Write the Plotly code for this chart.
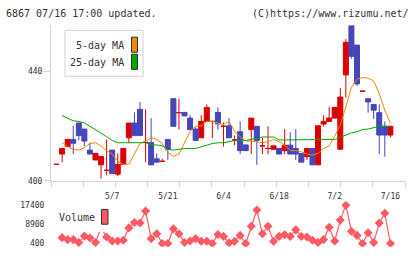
import plotly.graph_objects as go
import numpy as np

# ---------------- data ----------------
date_labels = ['5/7', '5/21', '6/4', '6/18', '7/2', '7/16']
date_label_idx = [10, 20, 30, 40, 50, 60]

opens = [406, 409.75, 412.5, 415.1, 421.1, 418.9, 411.2, 407.6, 405.8, 403.8,
         411.2, 402.4, 406, 415.7, 421.1, 426.1, 414, 413.9, 408, 407.1,
         415.1, 430, 424.9, 425, 422.9, 418.9, 415.7, 421.7, 421.7, 425,
         419.9, 420.1, 414.9, 417.9, 413.1, 418.7, 419.9, 412.75, 411.8, 411.5,
         411.8, 411, 413, 411.8, 410, 408.8, 411.8, 405.8, 420.7, 421.7,
         422.9, 411.5, 438.7, 456.8, 449.6, 432.75, 430, 427.9, 424.9, 419.9,
         416.7]
highs = [406, 411.8, 415.1, 420.1, 421.1, 418.9, 413.9, 410, 408.9, 415.1,
         411.2, 410, 411.8, 421.1, 425, 428.8, 426.1, 422.9, 410, 408,
         415.1, 430, 430, 425, 424, 419.5, 424, 427.9, 421.7, 426.8,
         421.3, 422.9, 416.5, 421.7, 413.1, 422.9, 419.9, 415.7, 419.9, 412.75,
         411.8, 418.9, 417.75, 418.9, 410, 411.8, 411.8, 420.1, 424, 427,
         426.8, 433.9, 451.8, 456.8, 449.6, 432.75, 430, 427.9, 427.9, 421.7,
         419.9]
lows = [406, 406.8, 412.5, 409.75, 414.75, 412.7, 409.75, 407.6, 400.8, 402,
        402.6, 401.7, 406, 413.9, 416.5, 416.5, 406.8, 405.8, 406.8, 407.1,
        407.6, 419.9, 418.7, 423.7, 418.7, 414.75, 415.7, 421.7, 415.7, 418.7,
        412.5, 415.7, 413, 409.75, 411, 409.75, 405.8, 409.75, 409.75, 411.5,
        409.75, 409.75, 409.75, 407.6, 406.8, 407.6, 405.8, 405.8, 419.75, 421.7,
        422.9, 411.5, 430.4, 444.6, 434.75, 432.75, 424.9, 422.6, 409.75, 408.8,
        415.9]
closes = [406, 411.8, 415.1, 413.7, 416.5, 414.5, 409.75, 410, 408.9, 403.8,
          402.6, 406, 411.8, 421.1, 416.5, 416.5, 414, 405.8, 406.8, 407.1,
          411.5, 419.9, 424.9, 423.7, 418.7, 414.75, 421.7, 426.8, 421.7, 420.8,
          419.9, 415.7, 414.9, 411, 411, 422.9, 414.75, 412.75, 411.8, 412.75,
          409.75, 413, 409.75, 409.75, 406.8, 411.8, 405.8, 420.1, 421.7, 422.9,
          426.8, 430.6, 450.6, 445.5, 435.4, 432.75, 428.8, 425.8, 416.7, 416.7,
          419.9]

ma5 = [None, 413.9, 412.4, 411.5, 411.2, 412.1, 413.6, 413.9, 412.75, 411,
       409.75, 407.1, 406, 406, 409.75, 413.6, 414.5, 415.7, 415.1, 413.6,
       410.4, 408.9, 409.75, 413.9, 418.1, 419.9, 420.1, 421.7, 421.7, 421.1,
       420.5, 421.7, 418.1, 416, 414.5, 414.5, 414.3, 413.9, 414.3, 415.1,
       414.3, 413.1, 411, 411, 410.6, 409.75, 409.4, 410, 411.8, 412.75,
       416.3, 420.5, 427, 434.2, 437.1, 437.75, 437.5, 436.5, 431.8, 425.8,
       421.1]
ma25 = [None, 423.8, 422.9, 421.9, 421.7, 421.1, 419.9, 418.7, 417.5, 416.1,
        414.75, 413.9, 413.9, 413.9, 413.9, 413.9, 413.9, 413.1, 413.1, 412.75,
        411.5, 411.2, 411.5, 411.8, 411.8, 411.8, 412.4, 413.1, 413.6, 413.9,
        413.9, 414.3, 414.75, 414.75, 414.75, 415.1, 415.5, 416, 416, 416,
        414.9, 414.9, 414.9, 414.9, 414.9, 414.9, 414.9, 414.9, 414.9, 414.9,
        415.1, 415.9, 416.7, 417.5, 417.9, 418.7, 418.9, 419.5, 419.9, 419.9,
        419.9]
volume = [None, 3000, 2130, 2130, 830, 3690, 2820, 830, 7460, 3260,
          1530, 1530, 1830, 7320, 9740, 9480, 14800, 2560, 4730, 400,
          400, 6890, 4730, 830, 1530, 2560, 1400, 1400, 400, 4420,
          3560, 660, 1400, 3990, 400, 8010, 15240, 4730, 8010, 1400,
          3560, 4290, 3560, 6460, 3560, 3260, 1830, 830, 2130, 7580,
          1530, 10780, 17400, 5850, 3990, 400, 5160, 830, 9480, 13810,
          400]

price_ticks = [400, 440]
volume_ticks = [400, 8900, 17400]

# ---------------- layout helpers ----------------
W, H = 420, 259
def px_x(p):
    return p / W
def px_y(p):
    return (H - p) / H

RED = '#dd0000'
BLUE = '#4646bb'
ORANGE = '#f08800'
GREEN = '#00a800'
VOLC = '#ff5a64'
AXC = '#d4d4d4'
TXT = '#333333'
MONO = 'DejaVu Sans Mono'

idx = np.arange(len(opens))
up = [c >= o for o, c in zip(opens, closes)]

def subset(flag):
    sel = [i for i in idx if up[i] == flag]
    return dict(x=[int(i) for i in sel],
                open=[opens[i] for i in sel], high=[highs[i] for i in sel],
                low=[lows[i] for i in sel], close=[closes[i] for i in sel])

fig = go.Figure()
for flag, col in [(True, RED), (False, BLUE)]:
    d = subset(flag)
    fig.add_trace(go.Candlestick(
        **d, xaxis='x', yaxis='y', whiskerwidth=0,
        increasing=dict(line=dict(color=col, width=1), fillcolor=col),
        decreasing=dict(line=dict(color=col, width=1), fillcolor=col),
        showlegend=False, hoverinfo='skip'))

fig.add_trace(go.Scatter(x=idx, y=ma5, mode='lines', line=dict(color=ORANGE, width=1),
                         xaxis='x', yaxis='y', showlegend=False, hoverinfo='skip'))
fig.add_trace(go.Scatter(x=idx, y=ma25, mode='lines', line=dict(color=GREEN, width=1),
                         xaxis='x', yaxis='y', showlegend=False, hoverinfo='skip'))

fig.add_trace(go.Scatter(x=idx, y=volume, mode='lines+markers',
                         line=dict(color=VOLC, width=1.2),
                         marker=dict(symbol='diamond', size=7, color=VOLC),
                         xaxis='x2', yaxis='y2', showlegend=False, hoverinfo='skip'))

xr = [-1, 62.63]
xdom = [px_x(51), px_x(405)]

shapes = [
    # main legend box
    dict(type='rect', xref='paper', yref='paper', x0=px_x(65), x1=px_x(143),
         y0=px_y(77), y1=px_y(30), line=dict(color='#d0d0d0', width=1),
         fillcolor='white', layer='above'),
    dict(type='rect', xref='paper', yref='paper', x0=px_x(131.5), x1=px_x(137.5),
         y0=px_y(52.5), y1=px_y(37), line=dict(color='#333333', width=1),
         fillcolor=ORANGE, layer='above'),
    dict(type='rect', xref='paper', yref='paper', x0=px_x(131.5), x1=px_x(137.5),
         y0=px_y(70), y1=px_y(54.5), line=dict(color='#333333', width=1),
         fillcolor=GREEN, layer='above'),
    # volume legend background + swatch
    dict(type='rect', xref='paper', yref='paper', x0=px_x(55), x1=px_x(110),
         y0=px_y(236.5), y1=px_y(208), line=dict(width=0),
         fillcolor='white', layer='above'),
    dict(type='rect', xref='paper', yref='paper', x0=px_x(101.5), x1=px_x(108),
         y0=px_y(228.5), y1=px_y(213.5), line=dict(color='#333333', width=1),
         fillcolor=VOLC, layer='above'),
]

annotations = [
    dict(text='6867 07/16 17:00 updated.', xref='paper', yref='paper',
         x=px_x(4), y=px_y(13), xanchor='left', yanchor='middle', showarrow=False,
         font=dict(family=MONO, size=10, color=TXT)),
    dict(text='(C)https://www.rizumu.net/', xref='paper', yref='paper',
         x=px_x(411), y=px_y(13), xanchor='right', yanchor='middle', showarrow=False,
         font=dict(family=MONO, size=10, color=TXT)),
    dict(text='5-day MA', xref='paper', yref='paper',
         x=px_x(126), y=px_y(45.5), xanchor='right', yanchor='middle', showarrow=False,
         font=dict(family=MONO, size=10, color=TXT)),
    dict(text='25-day MA', xref='paper', yref='paper',
         x=px_x(126), y=px_y(62.5), xanchor='right', yanchor='middle', showarrow=False,
         font=dict(family=MONO, size=10, color=TXT)),
    dict(text='Volume', xref='paper', yref='paper',
         x=px_x(57), y=px_y(221.5), xanchor='left', yanchor='middle', showarrow=False,
         font=dict(family=MONO, size=10, color=TXT)),
]

fig.update_layout(
    width=W, height=H, autosize=False,
    margin=dict(l=0, r=0, t=0, b=0),
    paper_bgcolor='white', plot_bgcolor='white',
    showlegend=False, boxgap=0.1, boxgroupgap=0,
    shapes=shapes, annotations=annotations,
    xaxis=dict(domain=xdom, range=xr, anchor='y', showgrid=False, zeroline=False,
               showline=True, linecolor=AXC, linewidth=1,
               ticks='outside', ticklen=5, tickcolor=AXC, tickwidth=1,
               tickvals=list(np.linspace(xr[0], xr[1], 12)), showticklabels=False,
               rangeslider=dict(visible=False), fixedrange=True),
    yaxis=dict(domain=[px_y(184), px_y(25)], range=[400, 456.79], anchor='x',
               showgrid=False, zeroline=False, showline=True, linecolor=AXC, linewidth=1,
               ticks='outside', ticklen=6, tickcolor=AXC, tickwidth=1,
               tickvals=price_ticks, ticktext=[str(v) for v in price_ticks],
               tickfont=dict(family=MONO, size=8, color=TXT), fixedrange=True),
    xaxis2=dict(domain=xdom, range=xr, anchor='y2', side='top', showgrid=False,
                zeroline=False, showline=False, ticks='',
                tickvals=date_label_idx, ticktext=date_labels,
                tickfont=dict(family=MONO, size=8, color=TXT), fixedrange=True),
    yaxis2=dict(domain=[px_y(251.5), px_y(205.3)], range=[-1000, 19000], anchor='x2',
                showgrid=False, zeroline=False, showline=False, ticks='outside',
                ticklen=4, tickcolor='rgba(0,0,0,0)',
                tickvals=volume_ticks, ticktext=[str(v) for v in volume_ticks],
                tickfont=dict(family=MONO, size=8, color=TXT), fixedrange=True),
)

fig.write_html('out.html')
